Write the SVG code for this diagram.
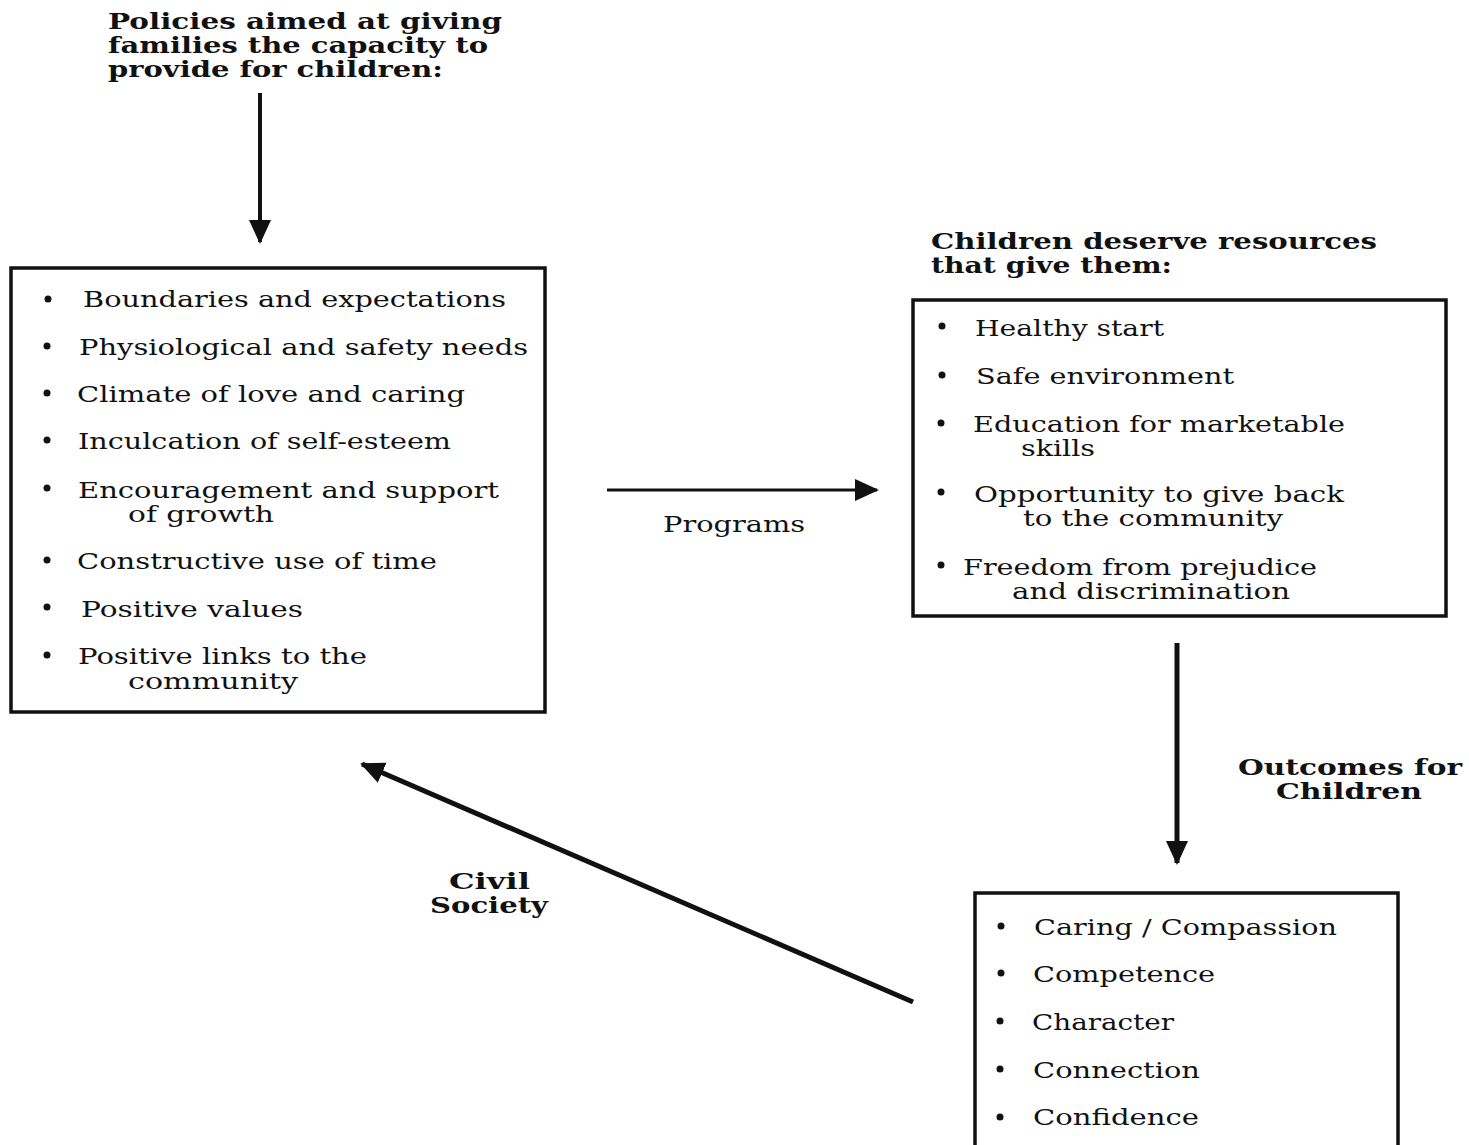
<svg xmlns="http://www.w3.org/2000/svg" width="1469" height="1145" viewBox="0 0 1469 1145">
<style>
.t{font-family:"DejaVu Serif","Liberation Serif",serif;font-size:23px;fill:#111}
.b{font-family:"DejaVu Serif","Liberation Serif",serif;font-size:22px;font-weight:bold;fill:#111}
.box{fill:#fff;stroke:#111;stroke-width:3.5}
.dot{fill:#111}
.c{stroke:#111;fill:none}
</style>
<defs>
<marker id="ah" markerUnits="userSpaceOnUse" markerWidth="24" markerHeight="24" viewBox="0 0 24 24" refX="22" refY="12" orient="auto">
<path d="M0,1 L24,12 L0,23 Z" fill="#111"/>
</marker>
</defs>
<rect width="1469" height="1145" fill="#fff"/>

<g id="title-policies">
<text class="b" x="108" y="29" textLength="394" lengthAdjust="spacingAndGlyphs">Policies aimed at giving</text>
<text class="b" x="108" y="53" textLength="380" lengthAdjust="spacingAndGlyphs">families the capacity to</text>
<text class="b" x="108" y="77" textLength="335" lengthAdjust="spacingAndGlyphs">provide for children:</text>
</g>

<g id="connectors">
<line class="c" x1="260" y1="93" x2="260" y2="242" stroke-width="4" marker-end="url(#ah)"/>
<line class="c" x1="607" y1="490" x2="877" y2="490" stroke-width="3" marker-end="url(#ah)"/>
<line class="c" x1="1177" y1="643" x2="1177" y2="863" stroke-width="5" marker-end="url(#ah)"/>
<line class="c" x1="913" y1="1002" x2="362" y2="764" stroke-width="5" marker-end="url(#ah)"/>
</g>

<g id="label-programs">
<text class="t" x="663" y="532" textLength="142" lengthAdjust="spacingAndGlyphs">Programs</text>
</g>
<g id="label-outcomes">
<text class="b" x="1238" y="775" textLength="224" lengthAdjust="spacingAndGlyphs">Outcomes for</text>
<text class="b" x="1276" y="799" textLength="146" lengthAdjust="spacingAndGlyphs">Children</text>
</g>
<g id="label-civil">
<text class="b" x="449" y="889" textLength="81" lengthAdjust="spacingAndGlyphs">Civil</text>
<text class="b" x="430" y="913" textLength="118" lengthAdjust="spacingAndGlyphs">Society</text>
</g>

<g id="node-family">
<rect class="box" x="11" y="268" width="534" height="444"/>
<circle class="dot" cx="48" cy="299" r="3.5"/>
<text class="t" x="83" y="307" textLength="423" lengthAdjust="spacingAndGlyphs">Boundaries and expectations</text>
<circle class="dot" cx="47" cy="346" r="3.5"/>
<text class="t" x="79" y="355" textLength="449" lengthAdjust="spacingAndGlyphs">Physiological and safety needs</text>
<circle class="dot" cx="47" cy="393" r="3.5"/>
<text class="t" x="77" y="402" textLength="388" lengthAdjust="spacingAndGlyphs">Climate of love and caring</text>
<circle class="dot" cx="47" cy="440" r="3.5"/>
<text class="t" x="78" y="449" textLength="373" lengthAdjust="spacingAndGlyphs">Inculcation of self-esteem</text>
<circle class="dot" cx="47" cy="488" r="3.5"/>
<text class="t" x="78" y="498" textLength="421" lengthAdjust="spacingAndGlyphs">Encouragement and support</text>
<text class="t" x="128" y="522" textLength="146" lengthAdjust="spacingAndGlyphs">of growth</text>
<circle class="dot" cx="47" cy="560" r="3.5"/>
<text class="t" x="77" y="569" textLength="360" lengthAdjust="spacingAndGlyphs">Constructive use of time</text>
<circle class="dot" cx="47" cy="607" r="3.5"/>
<text class="t" x="81" y="617" textLength="222" lengthAdjust="spacingAndGlyphs">Positive values</text>
<circle class="dot" cx="47" cy="655" r="3.5"/>
<text class="t" x="78" y="664" textLength="289" lengthAdjust="spacingAndGlyphs">Positive links to the</text>
<text class="t" x="128" y="689" textLength="170" lengthAdjust="spacingAndGlyphs">community</text>
</g>

<g id="title-resources">
<text class="b" x="931" y="249" textLength="446" lengthAdjust="spacingAndGlyphs">Children deserve resources</text>
<text class="b" x="931" y="273" textLength="241" lengthAdjust="spacingAndGlyphs">that give them:</text>
</g>

<g id="node-resources">
<rect class="box" x="913" y="300" width="533" height="316"/>
<circle class="dot" cx="942" cy="326" r="3.5"/>
<text class="t" x="975" y="336" textLength="189" lengthAdjust="spacingAndGlyphs">Healthy start</text>
<circle class="dot" cx="942" cy="375" r="3.5"/>
<text class="t" x="976" y="384" textLength="258" lengthAdjust="spacingAndGlyphs">Safe environment</text>
<circle class="dot" cx="941" cy="423" r="3.5"/>
<text class="t" x="973" y="432" textLength="372" lengthAdjust="spacingAndGlyphs">Education for marketable</text>
<text class="t" x="1021" y="456" textLength="74" lengthAdjust="spacingAndGlyphs">skills</text>
<circle class="dot" cx="941" cy="492" r="3.5"/>
<text class="t" x="974" y="502" textLength="370" lengthAdjust="spacingAndGlyphs">Opportunity to give back</text>
<text class="t" x="1023" y="526" textLength="260" lengthAdjust="spacingAndGlyphs">to the community</text>
<circle class="dot" cx="941" cy="565" r="3.5"/>
<text class="t" x="963" y="575" textLength="354" lengthAdjust="spacingAndGlyphs">Freedom from prejudice</text>
<text class="t" x="1012" y="599" textLength="278" lengthAdjust="spacingAndGlyphs">and discrimination</text>
</g>

<g id="node-outcomes">
<rect class="box" x="975" y="893" width="423" height="270"/>
<circle class="dot" cx="1001" cy="926" r="3.5"/>
<text class="t" x="1034" y="935" textLength="303" lengthAdjust="spacingAndGlyphs">Caring / Compassion</text>
<circle class="dot" cx="1001" cy="973" r="3.5"/>
<text class="t" x="1033" y="982" textLength="182" lengthAdjust="spacingAndGlyphs">Competence</text>
<circle class="dot" cx="1000" cy="1021" r="3.5"/>
<text class="t" x="1032" y="1030" textLength="142" lengthAdjust="spacingAndGlyphs">Character</text>
<circle class="dot" cx="1000" cy="1069" r="3.5"/>
<text class="t" x="1033" y="1078" textLength="167" lengthAdjust="spacingAndGlyphs">Connection</text>
<circle class="dot" cx="1000" cy="1117" r="3.5"/>
<text class="t" x="1033" y="1125" textLength="166" lengthAdjust="spacingAndGlyphs">Confidence</text>
</g>
</svg>
